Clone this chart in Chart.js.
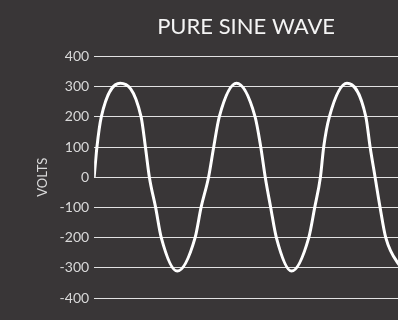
<!DOCTYPE html>
<html>
<head>
<meta charset="utf-8">
<script src="https://cdn.jsdelivr.net/npm/chart.js@4.4.1/dist/chart.umd.min.js"></script>
<style>
  html, body { margin: 0; padding: 0; background: #393637; overflow: hidden; }
  .wrap { position: relative; width: 398px; height: 320px; }
</style>
</head>
<body>
<div class="wrap"><canvas id="sineChart"></canvas></div>
<script>
// time (ms) and voltage: zero crossings, +-100/200 crossings and peaks
const timeMs = [
  0, 0.49, 1.26, 4.60, 8.28, 9.04, 9.74,
  10.84, 11.84, 14.65, 17.81, 18.86, 20.18,
  21.09, 22.07, 25.12, 28.39, 29.39, 30.18,
  31.14, 32.14, 34.82, 37.86, 38.91, 39.91,
  40.49, 41.49, 44.60, 47.93, 48.68, 49.56,
  50.44, 51.44, 54.47
];
const volts = [
  0, 100, 200, 311, 200, 100, 0,
  -100, -200, -311, -200, -100, 0,
  100, 200, 311, 200, 100, 0,
  -100, -200, -311, -200, -100, 0,
  100, 200, 311, 200, 100, 0,
  -100, -200, -311
];
const voltTicks = [400, 300, 200, 100, 0, -100, -200, -300, -400];
const timeEnd = 53.6;

const points = timeMs.map((t, i) => ({ x: t, y: volts[i] }));

Chart.defaults.font.family = 'Lato, "Open Sans", sans-serif';

new Chart(document.getElementById('sineChart'), {
  type: 'line',
  data: {
    datasets: [{
      data: points,
      borderColor: '#ffffff',
      borderWidth: 3,
      pointRadius: 0,
      fill: false,
      cubicInterpolationMode: 'monotone'
    }]
  },
  options: {
    responsive: true,
    maintainAspectRatio: false,
    animation: false,
    layout: { padding: { left: 31, right: 0, top: 0, bottom: 22 } },
    plugins: {
      legend: { display: false },
      tooltip: { enabled: false },
      title: {
        display: true,
        text: 'PURE SINE WAVE',
        color: '#f4f4f4',
        fullSize: false,
        font: { size: 22, weight: 'normal' },
        padding: { top: 14, bottom: 16 }
      }
    },
    scales: {
      x: {
        type: 'linear',
        min: 0,
        max: timeEnd,
        display: false
      },
      y: {
        min: -400,
        max: 400,
        afterBuildTicks: (axis) => { axis.ticks = voltTicks.map(v => ({ value: v })); },
        border: { display: false },
        grid: { color: '#e2e2e2', lineWidth: 1, drawTicks: false },
        ticks: { color: '#d9d9d9', font: { size: 14 }, padding: 5 },
        title: {
          display: true,
          text: 'VOLTS',
          color: '#d9d9d9',
          font: { size: 13 }
        }
      }
    }
  }
});
</script>
</body>
</html>
